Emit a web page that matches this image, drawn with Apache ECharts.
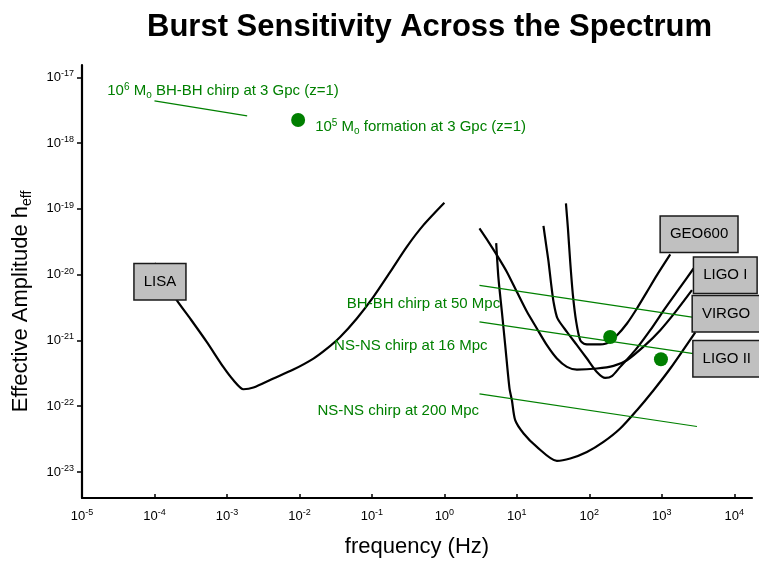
<!DOCTYPE html>
<html>
<head>
<meta charset="utf-8">
<title>Burst Sensitivity Across the Spectrum</title>
<script src="https://cdn.jsdelivr.net/npm/echarts@6/dist/echarts.min.js"></script>
<style>
  html, body { margin: 0; padding: 0; background: #fff; }
  #chart { width: 759px; height: 564px; }
</style>
</head>
<body>
<div id="chart"></div>
<script>
// [frequency (Hz), h_eff]
const lisaCurve = [
  [1.0e-4, 1.5e-20], [2.03e-4, 4.1e-21], [3.1e-4, 2.16e-21], [5.26e-4, 9.5e-22],
  [8.9e-4, 3.95e-22], [1.23e-3, 2.48e-22], [1.69e-3, 1.81e-22], [2.32e-3, 1.92e-22],
  [4.38e-3, 2.64e-22], [8.26e-3, 3.61e-22], [0.0156, 5.3e-22], [0.0239, 7.5e-22],
  [0.0365, 1.13e-21], [0.062, 2.16e-21], [0.105, 4.6e-21], [0.179, 1.1e-20],
  [0.303, 2.65e-20], [0.514, 5.66e-20], [1.0, 1.24e-19]
]
const virgoCurve = [
  [3.05, 5.05e-20], [4.06, 3.16e-20], [5.31, 1.98e-20], [7.29, 1.10e-20],
  [10.0, 5.48e-21], [13.8, 2.72e-21], [18.9, 1.52e-21], [26.0, 8.47e-22],
  [35.7, 5.31e-22], [49.1, 3.96e-22], [67.5, 3.61e-22], [127, 3.74e-22],
  [216, 4.10e-22], [331, 5.0e-22], [591, 8.47e-22], [953, 1.43e-21],
  [1535, 2.69e-21], [2610, 5.81e-21]
]
const ligo1Curve = [
  [23.3, 5.53e-20], [25.4, 2.81e-20], [27.4, 1.57e-20], [29.5, 7.78e-21],
  [32.1, 3.86e-21], [36.4, 2.16e-21], [49.1, 1.35e-21], [67.5, 8.47e-22],
  [92.7, 5.31e-22], [127, 3.32e-22], [166, 2.69e-22], [205, 2.86e-22],
  [267, 3.96e-22], [431, 7.11e-22], [693, 1.43e-21], [1117, 3.10e-21],
  [1800, 6.46e-21], [2746, 1.24e-20]
]
const geo600Curve = [
  [47.6, 1.21e-19], [50.7, 5.05e-20], [54.5, 1.57e-20], [59.4, 4.88e-21],
  [66.0, 1.91e-21], [74.9, 1.01e-21], [87.8, 8.77e-22], [127, 8.68e-22],
  [175, 9.08e-22], [241, 1.20e-21], [331, 1.81e-21], [454, 3.06e-21],
  [624, 5.48e-21], [858, 9.83e-21], [1309, 2.03e-20]
]
const ligo2Curve = [
  [5.19, 3.02e-20], [5.58, 8.75e-21], [6.22, 2.72e-21], [6.91, 8.47e-22],
  [7.92, 1.86e-22], [8.55, 1.23e-22], [9.49, 6.12e-23], [12.4, 3.84e-23],
  [18.9, 2.40e-23], [35.7, 1.47e-23], [54.5, 1.60e-23], [92.7, 2.01e-23],
  [157, 2.86e-23], [267, 4.57e-23], [454, 8.68e-23], [770, 1.75e-22],
  [1309, 3.74e-22], [2898, 1.33e-21]
]

// chirp tracks (green straight lines)
const chirp3Gpc = [[1.0e-4, 4.4e-18], [1.9e-3, 2.6e-18]]
const chirp50Mpc = [[3.05, 6.86e-21], [3060, 2.20e-21]]
const chirp16Mpc = [[3.05, 1.91e-21], [3060, 6.18e-22]]
const chirp200Mpc = [[3.05, 1.54e-22], [3060, 4.91e-23]]

// burst sources (green dots)
const sourcePoints = [[0.0096, 2.24e-18], [194, 1.13e-21], [974, 5.18e-22]]

// green notes and where they sit (left middle of text)
const noteTexts = [
  '{n|10}{sup|6}{n| M}{sub|o}{n| BH-BH chirp at 3 Gpc (z=1)}',
  '{n|10}{sup|5}{n| M}{sub|o}{n| formation at 3 Gpc (z=1)}',
  '{n|BH-BH chirp at 50 Mpc}',
  '{n|NS-NS chirp at 16 Mpc}',
  '{n|NS-NS chirp at 200 Mpc}'
]
const noteAnchors = [[2.23e-5, 6.19e-18], [0.0165, 1.77e-18], [0.0451, 3.56e-21], [0.0301, 8.26e-22], [0.0177, 8.48e-23]]

// detector name boxes (centre)
const boxNames = ['LISA', 'GEO600', 'LIGO I', 'VIRGO', 'LIGO II']
const boxAnchors = [[1.19e-4, 7.83e-21], [3270, 4.13e-20], [7520, 9.83e-21], [7715, 2.55e-21], [7890, 5.27e-22]]

// axis ticks
const xTicks = [1e-5, 1e-4, 1e-3, 1e-2, 1e-1, 1e0, 1e1, 1e2, 1e3, 1e4]
const yTicks = [1e-23, 1e-22, 1e-21, 1e-20, 1e-19, 1e-18, 1e-17]

const FONT = 'Liberation Sans, Arial, sans-serif'
const GREEN = '#008000'

const powLabel = v => '{b|10}{s|' + Math.round(Math.log10(v)) + '}'
const tickRich = {
  b: { fontSize: 13, lineHeight: 16, fontFamily: FONT, color: '#000' },
  s: { fontSize: 9, lineHeight: 9, verticalAlign: 'top', fontFamily: FONT, color: '#000' }
}

const chart = echarts.init(document.getElementById('chart'))

const curve = (name, data) => ({
  name: name,
  type: 'line',
  data: data,
  smooth: 0.25,
  showSymbol: false,
  silent: true,
  lineStyle: { color: '#000', width: 2.2 },
  z: 2
})
const chirp = (name, data) => ({
  name: name,
  type: 'line',
  data: data,
  showSymbol: false,
  silent: true,
  lineStyle: { color: GREEN, width: 1.2 },
  z: 3
})

const option = {
  animation: false,
  backgroundColor: '#fff',
  title: {
    text: 'Burst Sensitivity Across the Spectrum',
    left: 147,
    top: 12,
    padding: 0,
    textStyle: { fontSize: 31, fontWeight: 'bold', fontFamily: FONT, color: '#000' }
  },
  grid: { left: 82, right: 7, top: 65, bottom: 66, containLabel: false },
  xAxis: {
    type: 'log',
    min: 1e-5,
    max: 17576,
    name: 'frequency (Hz)',
    nameLocation: 'middle',
    nameGap: 38,
    nameTextStyle: { fontSize: 22, fontFamily: FONT, color: '#000' },
    axisLine: { lineStyle: { color: '#000', width: 2.2 } },
    axisTick: { inside: true, length: 4, lineStyle: { color: '#000', width: 1.5 }, customValues: xTicks },
    axisLabel: { margin: 10, formatter: powLabel, rich: tickRich, customValues: xTicks },
    splitLine: { show: false }
  },
  yAxis: {
    type: 'log',
    min: 4.02e-24,
    max: 1.54e-17,
    name: '{n|Effective Amplitude h}{sub|eff}',
    nameLocation: 'middle',
    nameGap: 48,
    nameTextStyle: {
      padding: [0, 40, 0, 0],
      rich: {
        n: { fontSize: 22, lineHeight: 26, fontFamily: FONT, color: '#000' },
        sub: { fontSize: 14, lineHeight: 14, verticalAlign: 'bottom', fontFamily: FONT, color: '#000' }
      }
    },
    axisLine: { lineStyle: { color: '#000', width: 2.2 } },
    axisTick: { inside: false, length: 5, lineStyle: { color: '#000', width: 1.5 }, customValues: yTicks },
    axisLabel: { margin: 8, formatter: powLabel, rich: tickRich, customValues: yTicks },
    splitLine: { show: false }
  },
  series: [
    curve('LISA', lisaCurve),
    curve('VIRGO', virgoCurve),
    curve('LIGO I', ligo1Curve),
    curve('GEO600', geo600Curve),
    curve('LIGO II', ligo2Curve),
    chirp('3 Gpc', chirp3Gpc),
    chirp('50 Mpc', chirp50Mpc),
    chirp('16 Mpc', chirp16Mpc),
    chirp('200 Mpc', chirp200Mpc),
    {
      name: 'sources',
      type: 'scatter',
      data: sourcePoints,
      symbolSize: 14,
      silent: true,
      itemStyle: { color: '#007f00', opacity: 1 },
      z: 4
    },
    {
      name: 'notes',
      type: 'scatter',
      data: noteAnchors.map((p, i) => ({ value: p, text: noteTexts[i] })),
      symbolSize: 0,
      silent: true,
      itemStyle: { color: GREEN, opacity: 1 },
      label: {
        show: true,
        position: 'right',
        distance: 0,
        formatter: p => p.data.text,
        rich: {
          n: { fontSize: 15, lineHeight: 18, fontFamily: FONT, color: GREEN },
          sup: { fontSize: 10, lineHeight: 10, verticalAlign: 'top', fontFamily: FONT, color: GREEN },
          sub: { fontSize: 10, lineHeight: 10, verticalAlign: 'bottom', fontFamily: FONT, color: GREEN }
        }
      },
      z: 5
    },
    {
      name: 'detectors',
      type: 'scatter',
      data: boxAnchors.map((p, i) => ({ value: p, name: boxNames[i] })),
      symbolSize: 0,
      silent: true,
      clip: false,
      itemStyle: { color: '#c0c0c0', opacity: 1 },
      label: {
        show: true,
        position: 'inside',
        formatter: '{b}',
        fontSize: 15,
        lineHeight: 15,
        fontFamily: FONT,
        color: '#000',
        backgroundColor: '#c0c0c0',
        borderColor: '#1a1a1a',
        borderWidth: 1.5,
        padding: [10, 9]
      },
      z: 6
    }
  ]
}
chart.setOption(option)
</script>
</body>
</html>
